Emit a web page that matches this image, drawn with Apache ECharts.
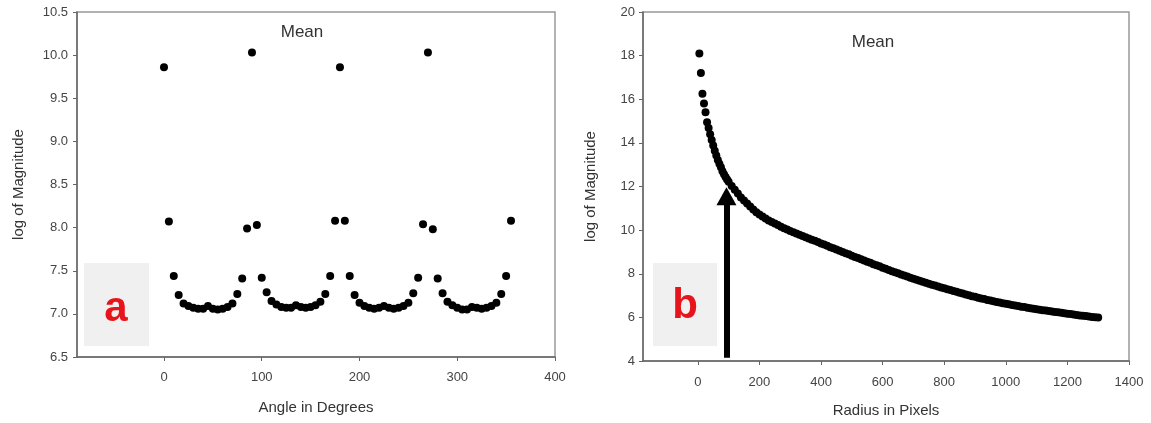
<!DOCTYPE html>
<html>
<head>
<meta charset="utf-8">
<script src="https://cdn.jsdelivr.net/npm/echarts@6/dist/echarts.min.js"></script>
<style>
html,body{margin:0;padding:0;background:#fff;}
#c{width:1151px;height:423px;}
</style>
</head>
<body>
<div id="c"></div>
<script>
// ---- Panel a: log of Magnitude vs angle (degrees) ----
const angleDeg = [0,5,10,15,20,25,30,35,40,45,50,55,60,65,70,75,80,85,
  90,95,100,105,110,115,120,125,130,135,140,145,150,155,160,165,170,175,
  180,185,190,195,200,205,210,215,220,225,230,235,240,245,250,255,260,265,
  270,275,280,285,290,295,300,305,310,315,320,325,330,335,340,345,350,355];
const angleLogMag = [9.86,8.07,7.44,7.22,7.12,7.09,7.07,7.06,7.06,7.09,7.06,7.05,7.06,7.08,7.12,7.23,7.41,7.99,
  10.03,8.03,7.42,7.25,7.15,7.11,7.08,7.07,7.07,7.10,7.08,7.07,7.08,7.10,7.14,7.23,7.44,8.08,
  9.86,8.08,7.44,7.22,7.13,7.09,7.07,7.06,7.07,7.09,7.07,7.06,7.07,7.09,7.13,7.24,7.42,8.04,
  10.03,7.98,7.41,7.24,7.14,7.10,7.07,7.05,7.05,7.08,7.07,7.06,7.07,7.09,7.13,7.23,7.44,8.08];
const angleTicks = [0,100,200,300,400];

// ---- Panel b: log of Magnitude vs radius (pixels) ----
const radiusPx = [5,10,15,20,25,30,35,40,45,50,55,60,65,70,75,80,85,90,95,100,
  110,120,130,140,150,160,170,180,190,200,210,220,230,240,250,260,270,280,290,300,
  310,320,330,340,350,360,370,380,390,400,410,420,430,440,450,460,470,480,490,500,
  510,520,530,540,550,560,570,580,590,600,610,620,630,640,650,660,670,680,690,700,
  710,720,730,740,750,760,770,780,790,800,810,820,830,840,850,860,870,880,890,900,
  910,920,930,940,950,960,970,980,990,1000,1010,1020,1030,1040,1050,1060,1070,1080,1090,1100,
  1110,1120,1130,1140,1150,1160,1170,1180,1190,1200,1210,1220,1230,1240,1250,1260,1270,1280,1290,1300];
const radiusLogMag = [18.1,17.2,16.25,15.8,15.4,14.95,14.68,14.4,14.13,13.88,13.64,13.42,13.22,13.04,12.88,12.7,12.56,12.43,12.32,12.22,
  12.02,11.85,11.68,11.5,11.36,11.22,11.08,10.95,10.82,10.72,10.62,10.53,10.44,10.37,10.3,10.23,10.16,10.09,10.03,9.96,
  9.9,9.84,9.79,9.73,9.67,9.62,9.56,9.51,9.45,9.39,9.34,9.28,9.22,9.17,9.11,9.05,9.0,8.94,8.89,8.83,
  8.77,8.72,8.66,8.61,8.55,8.5,8.44,8.39,8.34,8.28,8.23,8.17,8.12,8.07,8.02,7.97,7.92,7.87,7.82,7.77,
  7.73,7.68,7.63,7.59,7.54,7.5,7.46,7.42,7.37,7.33,7.29,7.25,7.21,7.17,7.13,7.09,7.05,7.01,6.97,6.94,
  6.9,6.87,6.84,6.8,6.77,6.74,6.71,6.68,6.65,6.62,6.6,6.57,6.54,6.52,6.49,6.47,6.44,6.42,6.4,6.37,
  6.35,6.33,6.31,6.29,6.27,6.25,6.23,6.21,6.19,6.17,6.15,6.13,6.11,6.09,6.07,6.06,6.04,6.02,6.01,5.99];
const radiusTicks = [0,200,400,600,800,1000,1200,1400];
// arrow annotation (data coordinates)
const arrowFrom = [93, 4.15];
const arrowTo = [93, 11.55];

const FONT = '"Liberation Sans", Arial, sans-serif';
const axisLineStyle = {color:'#666', width:1.5};
const tickStyle = {color:'#666', width:1};
const labelStyle = {color:'#444', fontSize:13, fontFamily:FONT};
const nameStyle = {color:'#333', fontSize:15, fontFamily:FONT};
const plain = v => String(v);

const chart = echarts.init(document.getElementById('c'), null, {renderer:'canvas'});
chart.setOption({
  animation:false,
  backgroundColor:'#fff',
  title:[
    {text:'Mean', left:297, top:19, textAlign:'center', textStyle:{fontSize:17, fontWeight:'normal', color:'#333', fontFamily:FONT}},
    {text:'Mean', left:868, top:29, textAlign:'center', textStyle:{fontSize:17, fontWeight:'normal', color:'#333', fontFamily:FONT}}
  ],
  grid:[
    {left:77, top:12, width:478, height:345, show:true, borderColor:'#999', borderWidth:1.5, backgroundColor:'transparent'},
    {left:643, top:12, width:486, height:350, show:true, borderColor:'#999', borderWidth:1.5, backgroundColor:'transparent'}
  ],
  xAxis:[
    {type:'value', gridIndex:0, min:-89, max:400,
     name:'Angle in Degrees', nameLocation:'middle', nameGap:43, nameTextStyle:nameStyle,
     axisLine:{show:true, onZero:false, lineStyle:axisLineStyle},
     axisTick:{show:true, length:4, lineStyle:tickStyle, customValues:angleTicks},
     axisLabel:Object.assign({margin:14, customValues:angleTicks, formatter:plain}, labelStyle),
     splitLine:{show:false}},
    {type:'value', gridIndex:1, min:-178, max:1400,
     name:'Radius in Pixels', nameLocation:'middle', nameGap:42, nameTextStyle:nameStyle,
     axisLine:{show:true, onZero:false, lineStyle:axisLineStyle},
     axisTick:{show:true, length:4, lineStyle:tickStyle, customValues:radiusTicks},
     axisLabel:Object.assign({margin:15, customValues:radiusTicks, formatter:plain}, labelStyle),
     splitLine:{show:false}}
  ],
  yAxis:[
    {type:'value', gridIndex:0, min:6.5, max:10.5, interval:0.5,
     name:'log of Magnitude', nameLocation:'middle', nameGap:51, nameTextStyle:nameStyle,
     axisLine:{show:true, onZero:false, lineStyle:axisLineStyle},
     axisTick:{show:true, length:4, lineStyle:tickStyle},
     axisLabel:Object.assign({margin:9, formatter:v=>v.toFixed(1)}, labelStyle),
     splitLine:{show:false}},
    {type:'value', gridIndex:1, min:4, max:20, interval:2,
     name:'log of Magnitude', nameLocation:'middle', nameGap:45, nameTextStyle:nameStyle,
     axisLine:{show:true, onZero:false, lineStyle:axisLineStyle},
     axisTick:{show:true, length:4, lineStyle:tickStyle},
     axisLabel:Object.assign({margin:8, formatter:plain}, labelStyle),
     splitLine:{show:false}}
  ],
  graphic:[
    {type:'rect', shape:{x:84, y:263, width:65, height:83}, style:{fill:'#f0f0f0'}, z:1},
    {type:'text', x:116, y:309, style:{text:'a', fill:'#e8141b', font:'bold 42px "Liberation Sans", Arial, sans-serif', textAlign:'center', textVerticalAlign:'middle'}, z:2},
    {type:'rect', shape:{x:653, y:263, width:64, height:83}, style:{fill:'#f0f0f0'}, z:1},
    {type:'text', x:685, y:306, style:{text:'b', fill:'#e8141b', font:'bold 42px "Liberation Sans", Arial, sans-serif', textAlign:'center', textVerticalAlign:'middle'}, z:2}
  ],
  series:[
    {type:'scatter', xAxisIndex:0, yAxisIndex:0, symbol:'circle', symbolSize:8,
     itemStyle:{color:'#000', opacity:1}, data:angleDeg.map((a,i)=>[a, angleLogMag[i]]), z:5},
    {type:'scatter', xAxisIndex:1, yAxisIndex:1, symbol:'circle', symbolSize:8,
     itemStyle:{color:'#000', opacity:1}, data:radiusPx.map((r,i)=>[r, radiusLogMag[i]]), z:5,
     markLine:{silent:true, symbol:['none','triangle'], symbolSize:[20,18],
       label:{show:false}, lineStyle:{color:'#000', width:6, type:'solid', opacity:1},
       emphasis:{disabled:true},
       data:[[{coord:arrowFrom},{coord:arrowTo}]]}}
  ]
});
</script>
</body>
</html>
